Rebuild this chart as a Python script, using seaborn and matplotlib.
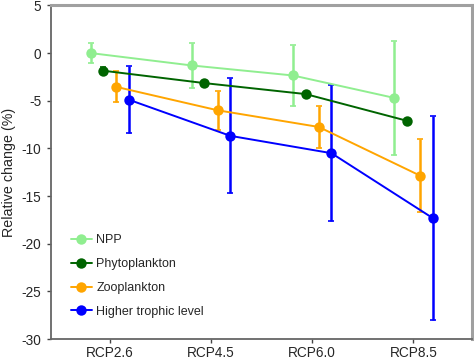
import matplotlib
matplotlib.use("Agg")
import matplotlib.pyplot as plt
import seaborn as sns
import pandas as pd
import numpy as np

scenarios = ["RCP2.6", "RCP4.5", "RCP6.0", "RCP8.5"]
groups = ["NPP", "Phytoplankton", "Zooplankton", "Higher trophic level"]

npp = [0.0, -1.3, -2.35, -4.7]
npp_err = [1.03, 2.4, 3.15, 5.95]
phyto = [-1.85, -3.15, -4.3, -7.1]
phyto_err = [0.35, 0.1, 0.1, 0.1]
zoo = [-3.55, -6.0, -7.75, -12.85]
zoo_err = [1.63, 2.07, 2.19, 3.86]
higher = [-4.9, -8.68, -10.5, -17.3]
higher_err = [3.53, 6.04, 7.12, 10.7]

colors = ["#90ee90", "#006400", "#ffa500", "#0000ff"]
offsets = [-0.19, -0.065, 0.065, 0.19]

values = [npp, phyto, zoo, higher]
errors = [npp_err, phyto_err, zoo_err, higher_err]

rows = []
for g, vals, errs, off in zip(groups, values, errors, offsets):
    for i, (v, e) in enumerate(zip(vals, errs)):
        rows.append({"group": g, "pos": i + off, "value": v, "err": e})
df = pd.DataFrame(rows)

sns.set_style("ticks")
plt.rcParams["font.family"] = ["Liberation Sans", "DejaVu Sans"]
plt.rcParams["axes.unicode_minus"] = False

fig = plt.figure(figsize=(4.74, 3.6), dpi=100)
ax = fig.add_axes([0.108, 0.058, 0.888, 0.927])

for g, c in zip(groups, colors):
    sub = df[df["group"] == g]
    ax.errorbar(sub["pos"], sub["value"], yerr=sub["err"], fmt="none",
                ecolor=c, elinewidth=1.8, capsize=2.2, capthick=1.2, zorder=2)

sns.lineplot(data=df, x="pos", y="value", hue="group", hue_order=groups,
             palette=colors, marker="o", markersize=7.5, markeredgewidth=0,
             linewidth=1.4, ax=ax, zorder=3)

ax.set_xlim(-0.58, 3.58)
ax.set_ylim(-30, 5)
ax.set_xticks(range(len(scenarios)))
ax.set_xticklabels(scenarios)
ax.set_yticks(np.arange(-30, 6, 5))
ax.set_xlabel("")
ax.set_ylabel("Relative change (%)", fontsize=10.3, labelpad=4)
ax.tick_params(axis="both", labelsize=9.8, length=3, width=1, color="#444444",
               direction="out")
ax.tick_params(axis="x", pad=2)
ax.tick_params(axis="y", pad=4)

for side in ["left", "bottom"]:
    ax.spines[side].set_color("#666666")
    ax.spines[side].set_linewidth(1.3)
for side in ["top", "right"]:
    ax.spines[side].set_visible(True)
    ax.spines[side].set_color("#a0a0a0")
    ax.spines[side].set_linewidth(2.2)

ax.legend(loc="lower left", bbox_to_anchor=(0.02, 0.03), frameon=False,
          fontsize=9.0, handlelength=1.7, labelspacing=0.95, handletextpad=0.35)

fig.savefig("out.png", dpi=100)
